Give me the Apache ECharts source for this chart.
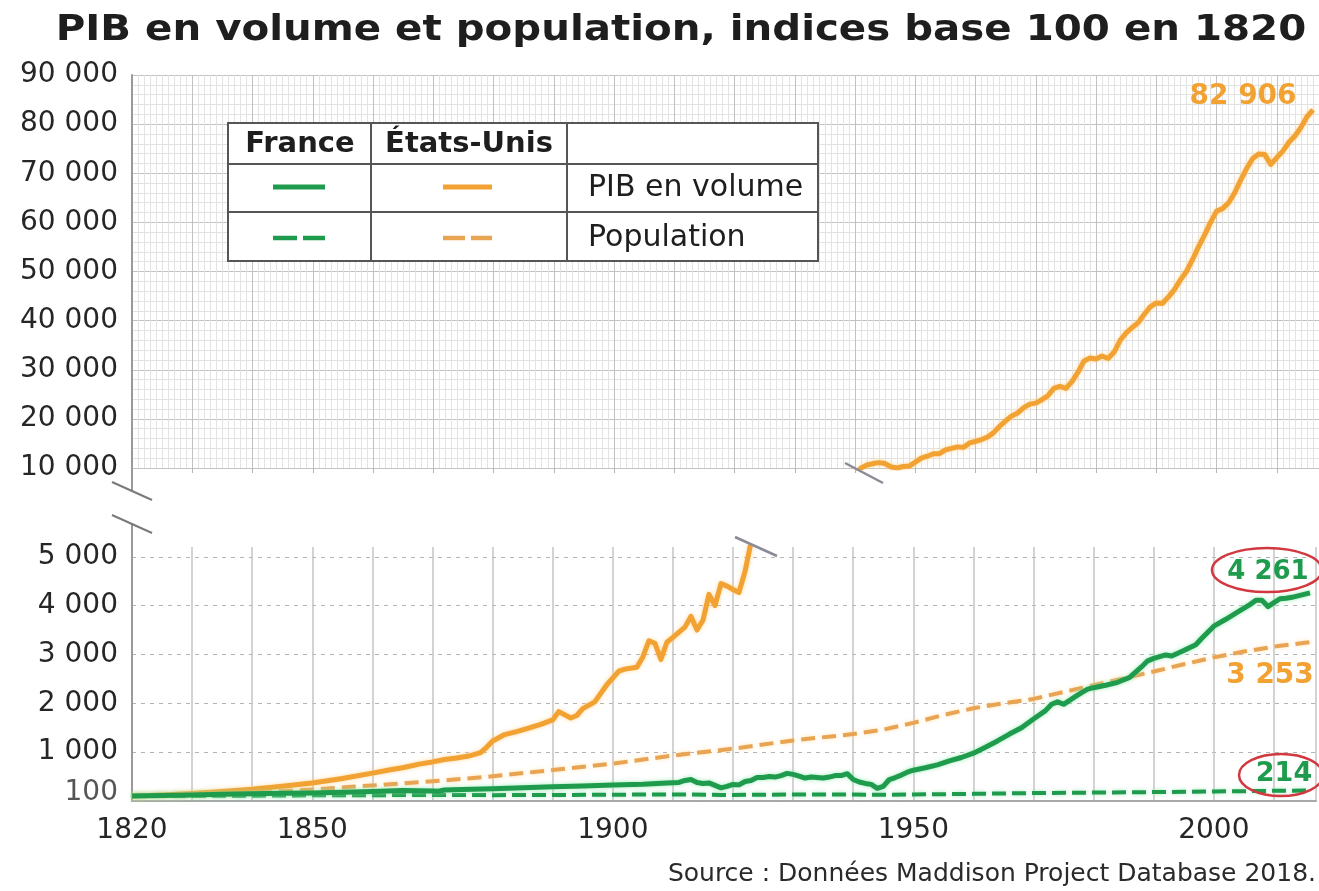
<!DOCTYPE html>
<html>
<head>
<meta charset="utf-8">
<script src="https://cdn.jsdelivr.net/npm/echarts@6/dist/echarts.min.js"></script>
<style>
  html, body { margin: 0; padding: 0; background: #fff; }
  #chart { width: 1319px; height: 891px; }
</style>
</head>
<body>
<div id="chart"></div>
<script>
// ---------- DATA ----------
const titleText = 'PIB en volume et population, indices base 100 en 1820';
const sourceText = 'Source : Données Maddison Project Database 2018.';
const xLabelYears = [1820, 1850, 1900, 1950, 2000];

// États-Unis, PIB en volume (partie basse, 1820-1923)
const usGdpEarly = [
  [1820,100],[1825,125],[1830,155],[1835,195],[1840,240],[1845,300],[1850,370],[1855,460],
  [1860,570],[1863,640],[1865,680],[1868,760],[1870,800],[1872,850],[1874,880],[1876,920],
  [1878,990],[1879,1100],[1880,1230],[1882,1360],[1884,1420],[1886,1490],[1888,1570],[1890,1660],
  [1891,1830],[1893,1700],[1894,1750],[1895,1890],[1897,2030],[1899,2380],[1901,2660],[1902,2700],
  [1904,2740],[1905,2950],[1906,3280],[1907,3230],[1908,2900],[1909,3250],[1910,3350],[1912,3560],
  [1913,3780],[1914,3500],[1915,3700],[1916,4230],[1917,4000],[1918,4450],[1919,4400],[1920,4330],
  [1921,4270],[1922,4700],[1923,5300]
];
// États-Unis, PIB en volume (partie haute, 1940-2016)
const usGdpLate = [
  [1940,8700],[1941,10000],[1942,10600],[1943,10900],[1944,11100],[1945,10900],[1946,10200],[1947,10000],
  [1948,10300],[1949,10400],[1950,11200],[1951,12000],[1952,12400],[1953,12900],[1954,12900],[1955,13700],
  [1956,14000],[1957,14300],[1958,14200],[1959,15100],[1960,15400],[1961,15800],[1962,16300],[1963,17200],
  [1964,18500],[1965,19600],[1966,20600],[1967,21200],[1968,22300],[1969,23000],[1970,23200],[1971,23900],
  [1972,24700],[1973,26200],[1974,26600],[1975,26200],[1976,27600],[1977,29500],[1978,31800],[1979,32400],
  [1980,32200],[1981,32800],[1982,32300],[1983,33600],[1984,36000],[1985,37500],[1986,38600],[1987,39600],
  [1988,41300],[1989,42800],[1990,43600],[1991,43500],[1992,44800],[1993,46300],[1994,48300],[1995,50000],
  [1996,52400],[1997,55000],[1998,57400],[1999,60000],[2000,62300],[2001,62800],[2002,64000],[2003,66000],
  [2004,68600],[2005,71000],[2006,73000],[2007,73900],[2008,73800],[2009,71800],[2010,73200],[2011,74500],
  [2012,76300],[2013,77600],[2014,79300],[2015,81500],[2016,82906]
];
// États-Unis, population
const usPop = [
  [1820,100],[1830,129],[1840,171],[1850,236],[1860,319],[1870,403],[1880,506],[1890,634],
  [1900,766],[1910,930],[1920,1071],[1930,1240],[1940,1370],[1945,1460],[1950,1600],[1955,1760],
  [1960,1900],[1965,2000],[1970,2090],[1975,2230],[1980,2370],[1985,2510],[1990,2650],[1995,2800],
  [2000,2940],[2005,3060],[2010,3160],[2016,3253]
];
// France, PIB en volume
const frGdp = [
  [1820,100],[1825,115],[1830,125],[1835,140],[1840,150],[1845,160],[1850,165],[1855,180],
  [1860,195],[1865,215],[1870,205],[1871,200],[1872,225],[1875,235],[1880,250],[1885,270],
  [1890,290],[1895,305],[1900,330],[1905,345],[1909,370],[1911,380],[1912,420],[1913,440],
  [1914,380],[1915,360],[1916,370],[1917,320],[1918,270],[1919,300],[1920,340],[1921,330],
  [1922,400],[1923,420],[1924,480],[1925,480],[1926,500],[1927,490],[1928,520],[1929,565],
  [1930,545],[1931,510],[1932,470],[1933,490],[1934,480],[1935,470],[1936,490],[1937,520],
  [1938,520],[1939,560],[1940,440],[1941,390],[1942,360],[1943,340],[1944,260],[1945,300],
  [1946,440],[1947,480],[1948,530],[1949,590],[1950,630],[1952,680],[1954,740],[1956,820],
  [1958,890],[1960,980],[1962,1100],[1964,1230],[1966,1370],[1968,1500],[1970,1680],[1972,1850],
  [1973,1980],[1974,2030],[1975,1980],[1976,2060],[1977,2140],[1978,2220],[1979,2290],[1980,2320],
  [1982,2370],[1984,2430],[1986,2530],[1988,2750],[1989,2870],[1990,2920],[1992,2990],[1993,2970],
  [1995,3080],[1997,3200],[1998,3330],[2000,3580],[2002,3720],[2004,3870],[2006,4020],[2007,4110],
  [2008,4110],[2009,3980],[2010,4060],[2011,4140],[2012,4150],[2013,4170],[2014,4200],[2015,4230],
  [2016,4261]
];
// France, population
const frPop = [
  [1820,100],[1830,105],[1840,110],[1850,116],[1860,119],[1870,123],[1880,120],[1890,122],
  [1900,130],[1913,133],[1918,125],[1920,125],[1930,132],[1940,131],[1946,129],[1950,134],
  [1960,146],[1970,163],[1980,172],[1990,182],[2000,195],[2010,208],[2016,214]
];

const endLabels = { usGdp: '82 906', frGdp: '4 261', usPop: '3 253', frPop: '214' };
const legendHeaders = ['France', 'États-Unis'];
const legendRows = ['PIB en volume', 'Population'];

// ---------- STYLE ----------
const FONT = '"DejaVu Sans", sans-serif';
const ORANGE = '#F2A232';
const ORANGE_D = '#E9A453';
const GREEN = '#1E9B4C';
const RED = '#D2383F';
const fmt = v => String(v).replace(/\B(?=(\d{3})+(?!\d))/g, ' ');

const chart = echarts.init(document.getElementById('chart'), null, { renderer: 'canvas' });

const baseLine = (name, data, xi, color, width, dash, glow) => ({
  name, type: 'line', data, xAxisIndex: xi, yAxisIndex: xi,
  showSymbol: false, symbol: 'none', clip: true, z: 3,
  lineStyle: { color, width, type: dash || 'solid', cap: 'butt', join: 'round',
               shadowColor: glow, shadowBlur: 4 },
  emphasis: { disabled: true }
});

const option = {
  animation: false,
  backgroundColor: '#fff',
  textStyle: { fontFamily: FONT },
  grid: [
    { left: 132, right: 0, top: 75, height: 393 },
    { left: 132, right: 0, top: 547, height: 254 }
  ],
  xAxis: [
    { type: 'value', gridIndex: 0, min: 1820, max: 2017, interval: 10,
      axisLabel: { show: false },
      axisLine: { show: false },
      axisTick: { show: true, length: 5, lineStyle: { color: '#b5b5b5' } },
      splitLine: { show: true, lineStyle: { color: '#c2c2c2', width: 1 } },
      minorTick: { show: false, splitNumber: 10 },
      minorSplitLine: { show: true, lineStyle: { color: '#e3e3e3', width: 1 } } },
    { type: 'value', gridIndex: 1, min: 1820, max: 2017, interval: 10,
      axisLabel: { color: '#262626', fontSize: 28, fontFamily: FONT, margin: 16,
                   formatter: v => xLabelYears.includes(v) ? String(v) : '' },
      axisLine: { show: true, lineStyle: { color: '#a8a8a8', width: 2 } },
      axisTick: { show: false },
      splitLine: { show: true, lineStyle: { color: '#c4c4c4', width: 1.5 } } }
  ],
  yAxis: [
    { type: 'value', gridIndex: 0, min: 10000, max: 90000, interval: 10000,
      axisLabel: { color: '#262626', fontSize: 28, fontFamily: FONT, margin: 14, formatter: v => fmt(v) },
      axisLine: { show: true, lineStyle: { color: '#9a9a9a', width: 2 } },
      axisTick: { show: false },
      splitLine: { show: true, lineStyle: { color: '#c2c2c2', width: 1 } },
      minorTick: { show: false, splitNumber: 5 },
      minorSplitLine: { show: true, lineStyle: { color: '#e3e3e3', width: 1 } } },
    { type: 'value', gridIndex: 1, min: 0, max: 5200, interval: 1000,
      axisLabel: { color: '#262626', fontSize: 28, fontFamily: FONT, margin: 14,
        formatter: v => v === 0 ? '{s|100}' : (v % 1000 === 0 ? fmt(v) : ''),
        rich: { s: { fontSize: 28, fontFamily: FONT, color: '#555', padding: [0, 0, 16, 0] } } },
      axisLine: { show: true, lineStyle: { color: '#9a9a9a', width: 2 } },
      axisTick: { show: false },
      splitLine: { show: true, showMinLine: false, showMaxLine: false,
                   lineStyle: { color: '#b4b4b4', width: 1.2, type: [4, 5] } } }
  ],
  series: [
    baseLine('États-Unis population', usPop, 1, ORANGE_D, 4, [14, 7], 'rgba(255,215,150,0.7)'),
    baseLine('France population', frPop, 1, GREEN, 4, [14, 6], 'rgba(140,230,170,0.7)'),
    baseLine('États-Unis PIB', usGdpEarly, 1, ORANGE, 5, null, 'rgba(255,210,140,0.8)'),
    baseLine('États-Unis PIB (haut)', usGdpLate, 0, ORANGE, 5, null, 'rgba(255,210,140,0.8)'),
    baseLine('France PIB', frGdp, 1, GREEN, 5, null, 'rgba(140,230,170,0.8)')
  ],
  graphic: [
    // title
    { type: 'text', x: 681, y: 31, scaleX: 1.12, z: 10,
      style: { text: titleText, font: 'bold 36px ' + FONT, fill: '#1e1e1e', align: 'center', verticalAlign: 'middle' } },
    // source
    { type: 'text', x: 1316, y: 874, z: 10,
      style: { text: sourceText, font: '25px ' + FONT, fill: '#2a2a2a', align: 'right', verticalAlign: 'middle' } },
    // axis extensions and break marks
    { type: 'line', z: 10, shape: { x1: 132, y1: 468, x2: 132, y2: 491 }, style: { stroke: '#9a9a9a', lineWidth: 2 } },
    { type: 'line', z: 10, shape: { x1: 132, y1: 523, x2: 132, y2: 547 }, style: { stroke: '#9a9a9a', lineWidth: 2 } },
    { type: 'line', z: 10, shape: { x1: 112, y1: 482, x2: 152, y2: 500 }, style: { stroke: '#7a7a7a', lineWidth: 2 } },
    { type: 'line', z: 10, shape: { x1: 112, y1: 515, x2: 152, y2: 533 }, style: { stroke: '#7a7a7a', lineWidth: 2 } },
    { type: 'line', z: 10, shape: { x1: 735, y1: 537, x2: 777, y2: 556 }, style: { stroke: '#8a8a98', lineWidth: 2.5 } },
    { type: 'line', z: 10, shape: { x1: 845, y1: 463, x2: 883, y2: 483 }, style: { stroke: '#8a8a98', lineWidth: 2.5 } },
    // legend table
    { type: 'rect', z: 20, shape: { x: 228, y: 123, width: 590, height: 138 },
      style: { fill: '#fff', stroke: '#555', lineWidth: 2 } },
    { type: 'line', z: 21, shape: { x1: 371, y1: 123, x2: 371, y2: 261 }, style: { stroke: '#555', lineWidth: 2 } },
    { type: 'line', z: 21, shape: { x1: 567, y1: 123, x2: 567, y2: 261 }, style: { stroke: '#555', lineWidth: 2 } },
    { type: 'line', z: 21, shape: { x1: 228, y1: 164, x2: 818, y2: 164 }, style: { stroke: '#555', lineWidth: 2 } },
    { type: 'line', z: 21, shape: { x1: 228, y1: 212, x2: 818, y2: 212 }, style: { stroke: '#555', lineWidth: 2 } },
    { type: 'text', z: 21, x: 300, y: 144,
      style: { text: legendHeaders[0], font: 'bold 29px ' + FONT, fill: '#1e1e1e', align: 'center', verticalAlign: 'middle' } },
    { type: 'text', z: 21, x: 469, y: 144,
      style: { text: legendHeaders[1], font: 'bold 29px ' + FONT, fill: '#1e1e1e', align: 'center', verticalAlign: 'middle' } },
    { type: 'text', z: 21, x: 588, y: 188,
      style: { text: legendRows[0], font: '30px ' + FONT, fill: '#1e1e1e', align: 'left', verticalAlign: 'middle' } },
    { type: 'text', z: 21, x: 588, y: 238,
      style: { text: legendRows[1], font: '30px ' + FONT, fill: '#1e1e1e', align: 'left', verticalAlign: 'middle' } },
    { type: 'line', z: 21, shape: { x1: 273, y1: 187, x2: 325, y2: 187 }, style: { stroke: GREEN, lineWidth: 5 } },
    { type: 'line', z: 21, shape: { x1: 443, y1: 187, x2: 492, y2: 187 }, style: { stroke: ORANGE, lineWidth: 5 } },
    { type: 'line', z: 21, shape: { x1: 273, y1: 238, x2: 325, y2: 238 }, style: { stroke: GREEN, lineWidth: 4.5, lineDash: [24, 6] } },
    { type: 'line', z: 21, shape: { x1: 443, y1: 238, x2: 492, y2: 238 }, style: { stroke: ORANGE_D, lineWidth: 4.5, lineDash: [22, 6] } },
    // end annotations
    { type: 'text', z: 15, x: 1243, y: 97,
      style: { text: endLabels.usGdp, font: 'bold 28px ' + FONT, fill: ORANGE, align: 'center', verticalAlign: 'middle' } },
    { type: 'ellipse', z: 15, shape: { cx: 1267, cy: 570, rx: 55, ry: 22 }, style: { fill: 'none', stroke: RED, lineWidth: 2.5 } },
    { type: 'text', z: 15, x: 1268, y: 572,
      style: { text: endLabels.frGdp, font: 'bold 26px ' + FONT, fill: GREEN, align: 'center', verticalAlign: 'middle' } },
    { type: 'text', z: 15, x: 1270, y: 676,
      style: { text: endLabels.usPop, font: 'bold 28px ' + FONT, fill: ORANGE, align: 'center', verticalAlign: 'middle' } },
    { type: 'ellipse', z: 15, shape: { cx: 1281, cy: 775, rx: 42, ry: 21 }, style: { fill: 'none', stroke: RED, lineWidth: 2.5 } },
    { type: 'text', z: 15, x: 1284, y: 774,
      style: { text: endLabels.frPop, font: 'bold 27px ' + FONT, fill: GREEN, align: 'center', verticalAlign: 'middle' } }
  ]
};
chart.setOption(option);
</script>
</body>
</html>
